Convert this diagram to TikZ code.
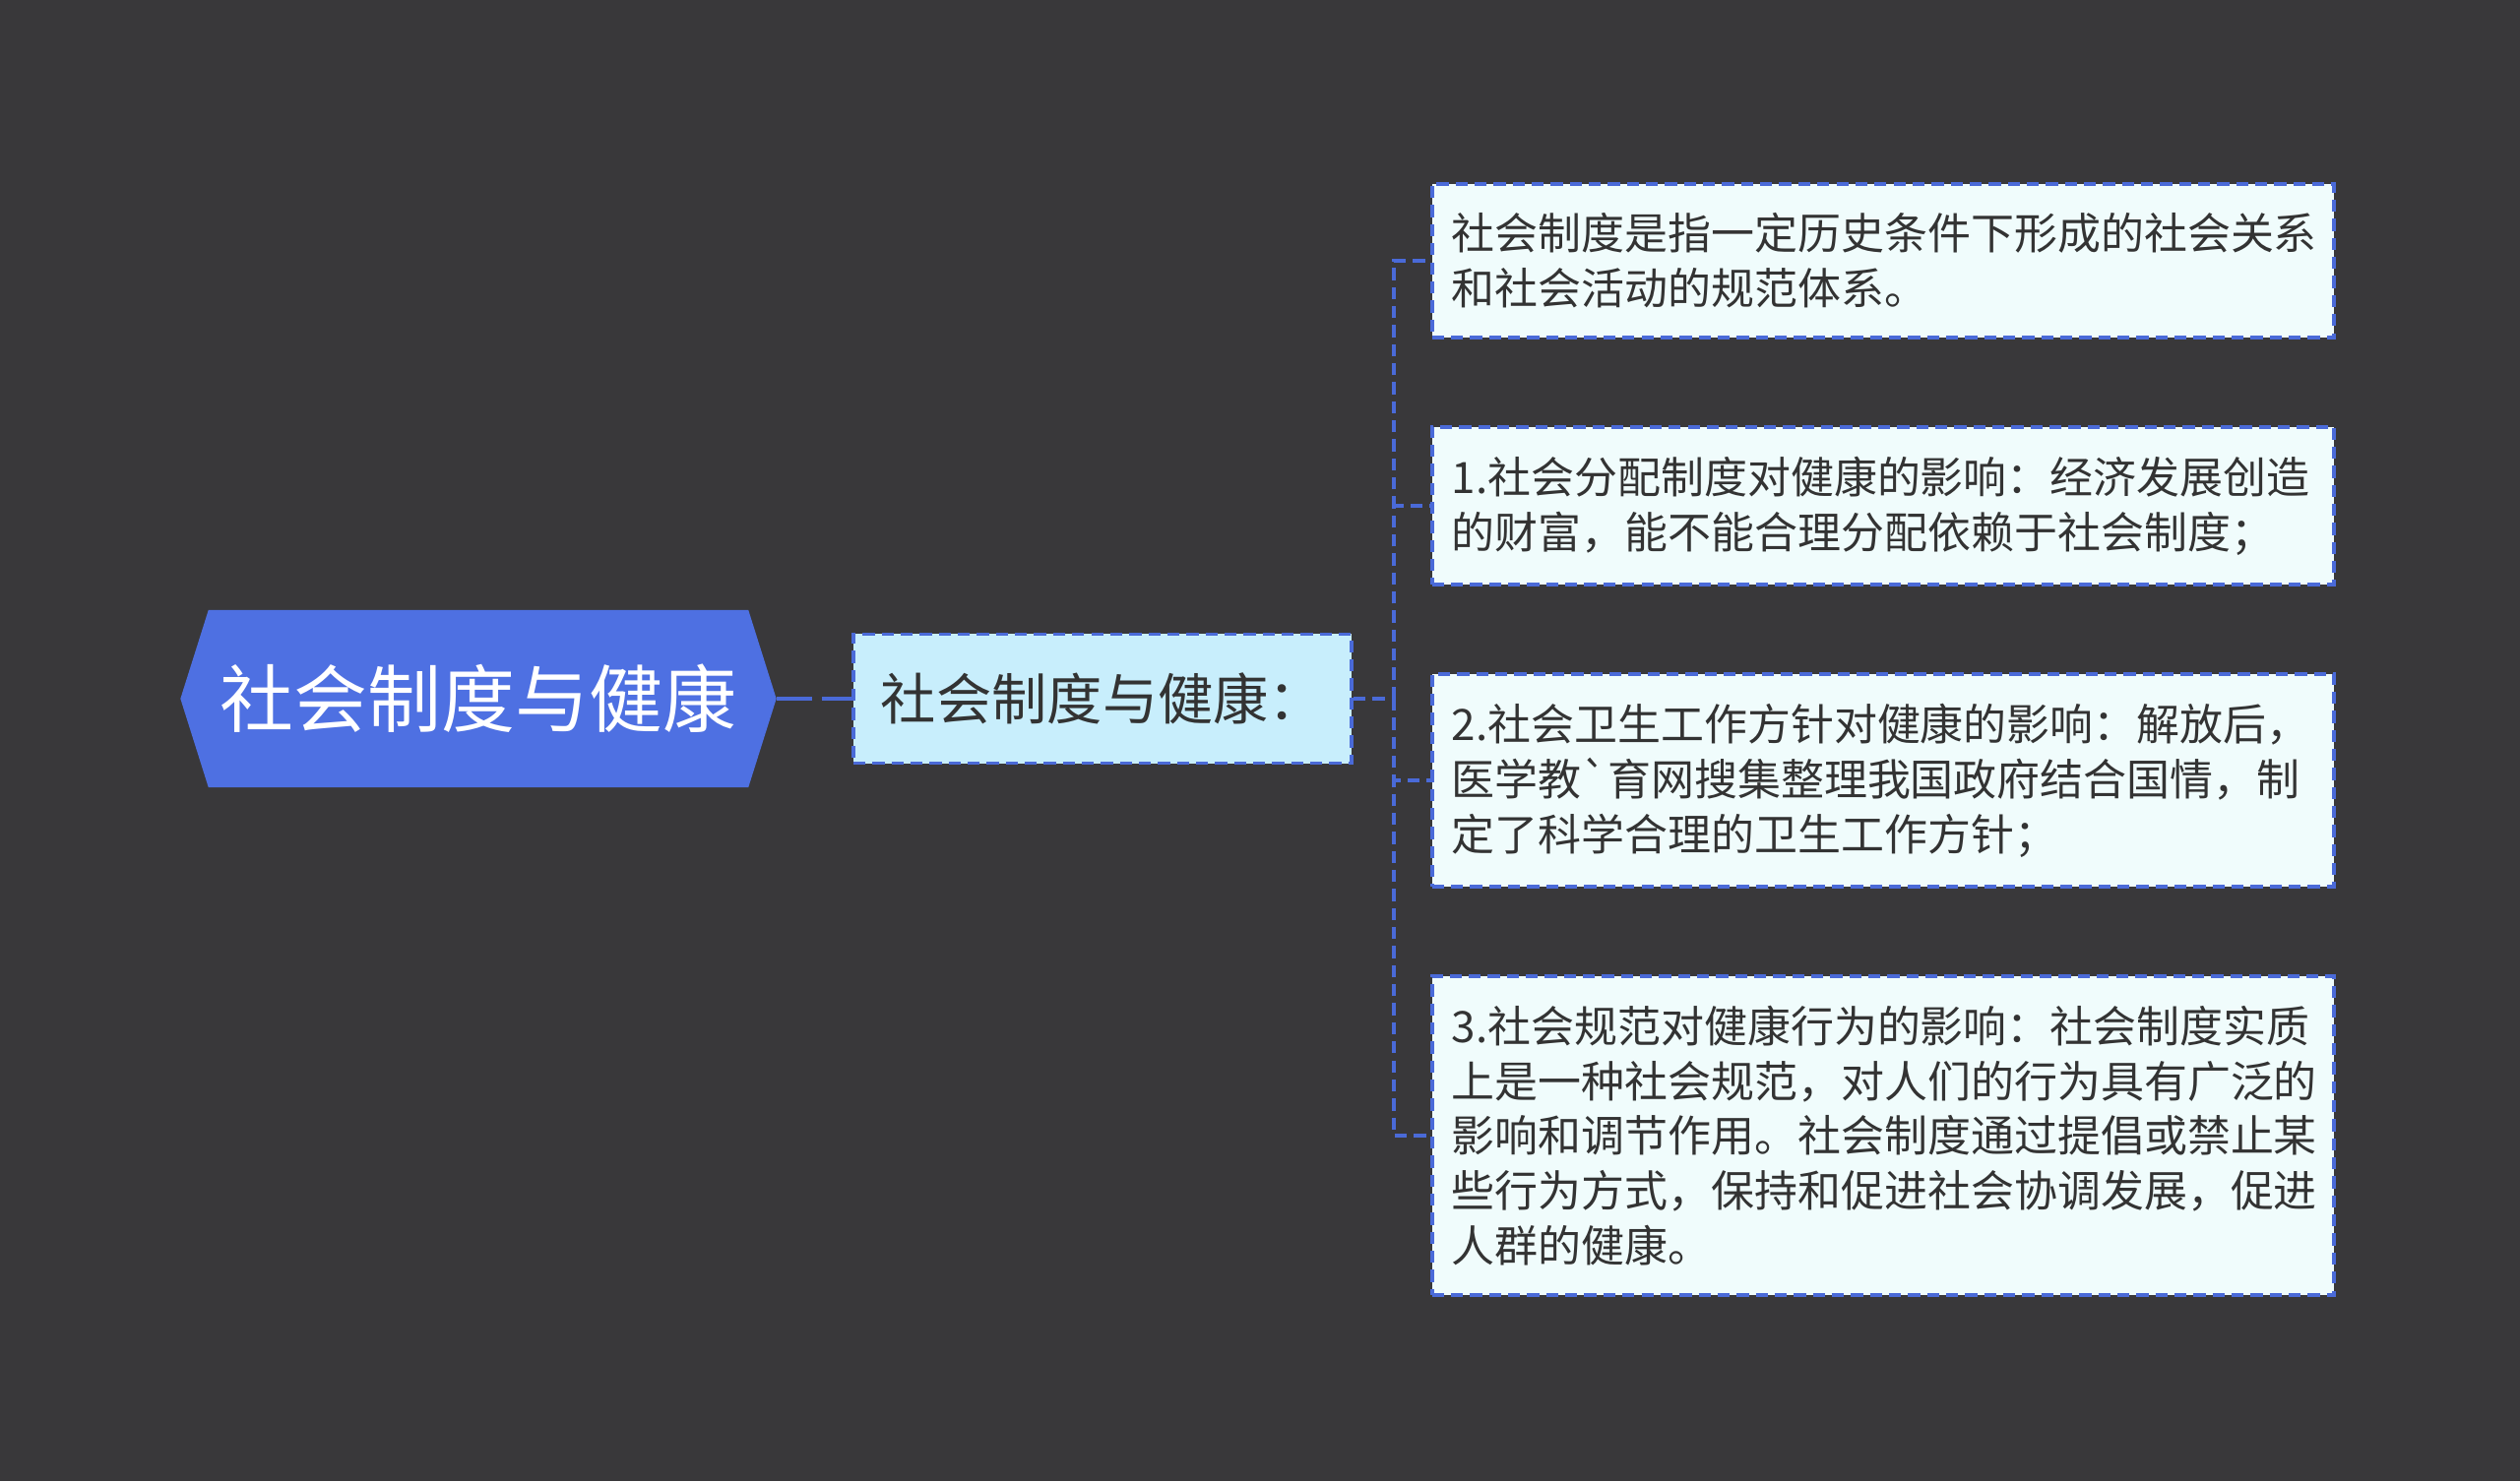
\documentclass[tikz,border=0pt]{standalone}
\usepackage{fontspec}
\setmainfont{Noto Sans CJK SC}
\usepackage{xcolor}
\usetikzlibrary{shapes,arrows,positioning,calc}
\definecolor{bgdark}{HTML}{39383A}
\definecolor{topicblue}{HTML}{4E70E2}
\definecolor{subfill}{HTML}{C8EEFC}
\definecolor{leaffill}{HTML}{F0FCFC}
\definecolor{edgeblue}{HTML}{4A6AD8}
\definecolor{inkgray}{HTML}{333333}
\tikzset{
    topic/.style={shape=signal, signal to=west and east, signal pointer angle=145, fill=topicblue, text=white, minimum width=6.05cm, minimum height=1.8cm, inner sep=0pt, font=\fontsize{21.3}{25}\selectfont},
    subtopic/.style={draw=edgeblue, line width=1.1pt, dash pattern=on 3.5pt off 2pt, rectangle, fill=subfill, text=inkgray, minimum width=5.06cm, minimum height=1.31cm, font=\fontsize{16}{19}\selectfont},
    leaf/.style={draw=edgeblue, line width=1.1pt, dash pattern=on 3.5pt off 2pt, rectangle, fill=leaffill, text=inkgray, text width=8.76cm, align=left, inner xsep=0.2cm, inner ysep=0.30cm, font=\fontsize{12.5}{15.9}\selectfont},
    link/.style={draw=edgeblue, line width=1pt, dash pattern=on 3.5pt off 2pt},
    rootlink/.style={draw=edgeblue, line width=1.3pt, dash pattern=on 10pt off 3pt}
}

\begin{document}
\begin{tikzpicture}[x=0.01cm, y=-0.01cm]
    \fill[bgdark] (0,0) rectangle (2560,1505);
    \useasboundingbox (0,0) rectangle (2560,1505);

    \node[topic] (root) at (486,710) {社会制度与健康};
    \node[subtopic] (sub) at (1120,710) {社会制度与健康：};

    \node[leaf] (l1) at (1913,265) {社会制度是指一定历史条件下形成的社会关系\\和社会活动的规范体系。};
    \node[leaf] (l2) at (1913,514) {1.社会分配制度对健康的影响：经济发展创造\\的财富，能不能合理分配依赖于社会制度；};
    \node[leaf] (l3) at (1913,793) {2.社会卫生工作方针对健康的影响：解放后，\\医学教\textasciigrave 育网搜集整理我国政府结合国情，制\\定了科学合理的卫生工作方针；};
    \node[leaf] (l4) at (1913,1154) {3.社会规范对健康行为的影响：社会制度实质\\上是一种社会规范，对人们的行为具有广泛的\\影响和调节作用。社会制度通过提倡或禁止某\\些行为方式，保持和促进社会协调发展，促进\\人群的健康。};

    \draw[rootlink] (root.east) -- (sub.west);
    \draw[link] (sub.east) -- ++(41,0) coordinate (fork);
    \foreach \n in {l1,l2,l3,l4} {
        \draw[link] (fork) |- (\n.west);
    }
\end{tikzpicture}
\end{document}
